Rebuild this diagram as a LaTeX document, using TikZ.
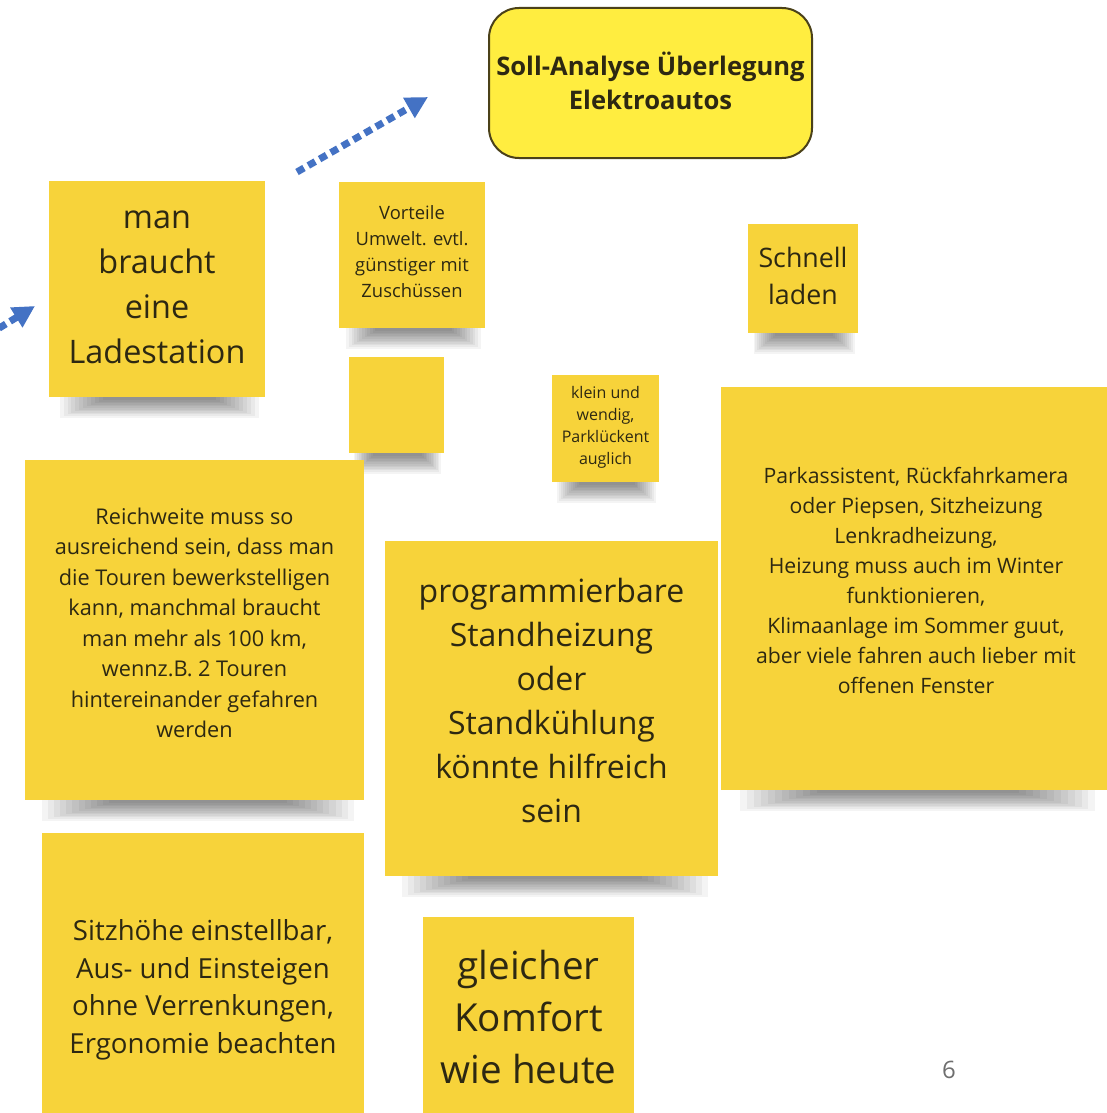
\documentclass[tikz,border=0pt]{standalone}
\usepackage{fontspec}
\setmainfont{Open Sans}
\usetikzlibrary{arrows.meta}
\definecolor{noteyellow}{RGB}{247,211,58}
\definecolor{titleyellow}{RGB}{255,237,64}
\definecolor{titleborder}{RGB}{75,65,25}
\definecolor{notetext}{RGB}{45,40,18}
\definecolor{arrowblue}{RGB}{68,114,196}
\definecolor{pagegray}{RGB}{110,110,110}
\newcommand{\nfs}[2]{\fontsize{#1}{#2}\selectfont}
\newcommand{\stickyshadow}[3]{%
  \pgfmathsetmacro{\shw}{#2-#1}%
  \foreach \i in {0,...,11}{%
    \fill[black, opacity=0.045] ({#1+0.05*\shw+\i*0.018*\shw}, #3-2) rectangle ({#2-0.03*\shw-\i*0.018*\shw}, {#3+3+(11-\i)*1.6});
  }}
\tikzset{
  note/.style={fill=noteyellow, inner sep=0pt},
  notetxt/.style={align=center, text=notetext, inner sep=0pt},
  titlebox/.style={fill=titleyellow, draw=titleborder, line width=1pt, rounded corners=15pt,
    inner sep=0pt, align=center, text=notetext, font=\bfseries\nfs{12.8}{17}},
  conn/.style={draw=arrowblue, line width=3.5pt, dash pattern=on 4pt off 2.5pt,
    -{Triangle[length=11pt,width=11pt]}}
}
\begin{document}
\begin{tikzpicture}[x=0.5pt,y=-0.5pt]
\useasboundingbox (0,0) rectangle (1107,1113);
\clip (0,0) rectangle (1107,1113);
\fill[white] (0,0) rectangle (1107,1113);

% title
\node[titlebox, minimum width=161.5pt, minimum height=75pt,
  label={[notetxt, font=\bfseries\nfs{12.8}{17}, yshift=1.2pt]center:{Soll-Analyse Überlegung\\Elektroautos}}] (title) at (650.5,83) {};

% arrows
\coordinate (a1s) at (297,172);
\coordinate (a1e) at (428,97);
\draw[conn] (a1s) -- (a1e);
\coordinate (a2s) at (-12,335);
\coordinate (a2e) at (35,306);
\draw[conn] (a2s) -- (a2e);

% shadows
\stickyshadow{49}{265}{397}
\stickyshadow{339}{485}{328}
\stickyshadow{349}{444}{453}
\stickyshadow{552}{659}{482}
\stickyshadow{748}{858}{333}
\stickyshadow{721}{1107}{790}
\stickyshadow{25}{364}{800}
\stickyshadow{385}{718}{876}

% notes
\node[note, minimum width=108pt, minimum height=108pt,
  label={[notetxt, font=\nfs{16.2}{22.5}, yshift=1pt]center:{man\\braucht\\eine\\Ladestation}}] (lade) at (157,289) {};
\node[note, minimum width=73pt, minimum height=73pt,
  label={[notetxt, font=\nfs{9.2}{13}, yshift=1.8pt]center:{Vorteile\\Umwelt. evtl.\\günstiger mit\\Zuschüssen}}] (vorteile) at (412,255) {};
\node[note, minimum width=47.5pt, minimum height=48pt] (leer) at (396.5,405) {};
\node[note, minimum width=53.5pt, minimum height=53.5pt,
  label={[notetxt, font=\nfs{8}{11}, yshift=0.8pt]center:{klein und\\wendig,\\Parklückent\\auglich}}] (klein) at (605.5,428.5) {};
\node[note, minimum width=55pt, minimum height=54.5pt,
  label={[notetxt, font=\nfs{13.4}{18.5}, yshift=1.5pt]center:{Schnell\\laden}}] (schnell) at (803,278.5) {};
\node[note, minimum width=197pt, minimum height=201.5pt,
  label={[notetxt, font=\nfs{10.6}{15}, yshift=3.8pt, xshift=-1pt]center:{Parkassistent, Rückfahrkamera\\oder Piepsen, Sitzheizung\\Lenkradheizung,\\Heizung muss auch im Winter\\funktionieren,\\Klimaanlage im Sommer guut,\\aber viele fahren auch lieber mit\\offenen Fenster}}] (komfort) at (918,588.5) {};
\node[note, minimum width=169.5pt, minimum height=170pt,
  label={[notetxt, font=\nfs{10.85}{15.25}, yshift=3.5pt]center:{Reichweite muss so\\ausreichend sein, dass man\\die Touren bewerkstelligen\\kann, manchmal braucht\\man mehr als 100 km,\\wennz.B. 2 Touren\\hintereinander gefahren\\werden}}] (reichweite) at (194.5,630) {};
\node[note, minimum width=166.5pt, minimum height=167.5pt,
  label={[notetxt, font=\nfs{16}{22}, yshift=4pt]center:{programmierbare\\Standheizung\\oder\\Standkühlung\\könnte hilfreich\\sein}}] (stand) at (551.5,708.5) {};
\node[note, minimum width=161pt, minimum height=161pt,
  label={[notetxt, font=\nfs{13.8}{18.75}, yshift=2pt]center:{Sitzhöhe einstellbar,\\Aus- und Einsteigen\\ohne Verrenkungen,\\Ergonomie beachten}}] (sitz) at (203,994) {};
\node[note, minimum width=105.5pt, minimum height=105.5pt,
  label={[notetxt, font=\nfs{19.3}{26}, yshift=2.8pt]center:{gleicher\\Komfort\\wie heute}}] (gleich) at (528.5,1022.5) {};

% page number
\node[text=pagegray, font=\nfs{12}{14}, inner sep=0pt] (page) at (949,1070) {6};
\end{tikzpicture}
\end{document}
